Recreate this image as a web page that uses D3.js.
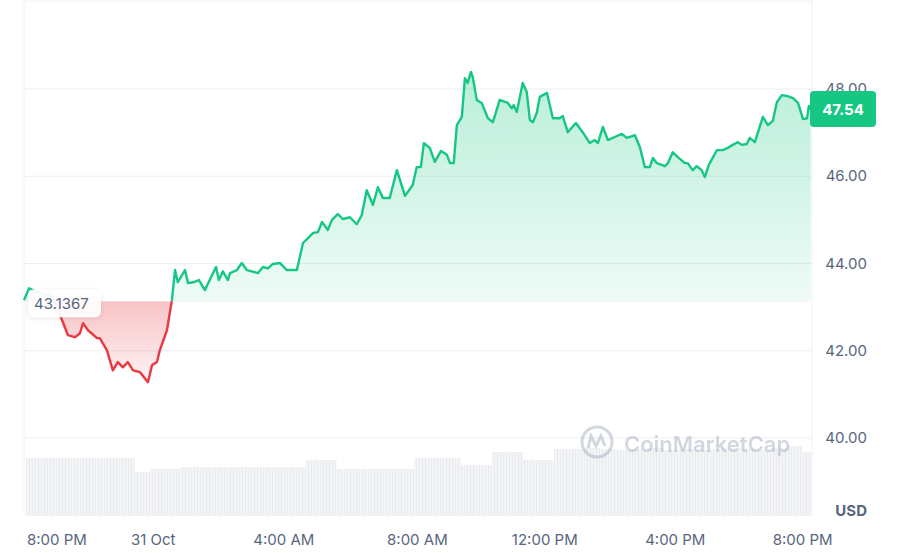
<!DOCTYPE html>
<html>
<head>
<meta charset="utf-8">
<script src="https://cdn.jsdelivr.net/npm/d3@7"></script>
<style>
  body { margin: 0; background: #fff; }
  text { font-family: Inter, "Noto Sans", sans-serif; }
</style>
</head>
<body>
<svg id="chart" width="921" height="553"></svg>
<script>
// price series: hours since 8:00 PM (30 Oct) and price in USD
var hours = [-1.06,-0.90,-0.55,-0.16,0.19,0.35,0.58,0.74,0.84,1.00,1.29,1.38,1.61,1.80,1.96,2.12,2.28,2.45,2.67,2.93,3.06,3.22,3.31,3.54,3.70,3.80,3.89,4.12,4.22,4.38,4.57,4.76,5.12,5.21,5.34,5.50,5.57,5.79,5.95,6.11,6.47,6.63,6.79,6.95,7.18,7.40,7.72,7.92,8.08,8.24,8.40,8.53,8.72,8.85,9.04,9.20,9.43,9.65,9.81,9.97,10.17,10.33,10.49,10.71,10.94,11.20,11.45,11.58,11.71,11.81,12.00,12.16,12.36,12.55,12.65,12.77,12.87,13.03,13.13,13.22,13.32,13.38,13.51,13.67,13.87,14.03,14.25,14.51,14.64,14.70,14.80,14.99,15.12,15.22,15.32,15.44,15.54,15.77,15.96,16.18,16.28,16.44,16.70,16.92,17.15,17.31,17.41,17.57,17.73,17.95,18.18,18.34,18.60,18.76,18.92,19.08,19.18,19.31,19.57,19.66,19.82,19.98,20.21,20.30,20.46,20.59,20.75,20.85,20.98,21.24,21.43,21.59,21.75,21.91,22.04,22.20,22.30,22.46,22.72,22.88,23.04,23.17,23.33,23.49,23.69,23.85,24.01,24.14,24.20,24.26];
var prices = [43.16,43.43,43.32,43.25,42.66,42.36,42.31,42.40,42.63,42.47,42.29,42.29,42.01,41.55,41.74,41.62,41.74,41.55,41.51,41.28,41.67,41.74,42.01,42.47,43.16,43.85,43.57,43.85,43.55,43.57,43.62,43.39,43.92,43.62,43.82,43.62,43.78,43.85,44.01,43.85,43.78,43.92,43.89,43.99,44.01,43.85,43.85,44.47,44.58,44.70,44.72,44.95,44.77,45.00,45.13,45.02,45.06,44.90,45.11,45.68,45.34,45.75,45.50,45.50,46.14,45.55,45.80,46.21,46.21,46.76,46.65,46.33,46.58,46.49,46.30,46.30,47.17,47.36,48.25,48.14,48.39,48.28,47.75,47.68,47.33,47.24,47.75,47.68,47.56,47.63,47.47,48.14,47.93,47.29,47.24,47.45,47.82,47.91,47.33,47.33,47.38,47.01,47.22,47.01,46.76,46.83,46.76,47.13,46.83,46.90,46.97,46.88,46.94,46.67,46.21,46.21,46.42,46.30,46.23,46.30,46.55,46.44,46.30,46.30,46.14,46.23,46.14,45.98,46.26,46.60,46.60,46.65,46.72,46.78,46.72,46.74,46.88,46.78,47.36,47.17,47.27,47.70,47.86,47.84,47.79,47.68,47.31,47.33,47.61,47.54];
// volume bars, one per half hour starting at -1h (relative units)
var volumes = [58,58,58,58,58,58,58,44,47,47,49,49,49,49,49,49,49,49,56,56,47,47,47,47,47,58,58,58,51,51,64,64,56,56,67,67,68,67,66,67,68,66,67,66,67,68,67,66,68,70,64];
var tickHours = [0,3.1,7.3,11.6,15.7,19.9,24];
var tickLabels = ["8:00 PM","31 Oct","4:00 AM","8:00 AM","12:00 PM","4:00 PM","8:00 PM"];
var priceTicks = [40,42,44,46,48];
var openPrice = 43.1367;
var lastPrice = 47.54;

var svg = d3.select("#chart");
var left = 24, right = 812;
var x = d3.scaleLinear().domain([-1.06, 24.3]).range([left, right]);
var y = d3.scaleLinear().domain([40, 48]).range([438, 89]);
var yv = d3.scaleLinear().domain([0, 100]).range([516, 416]);

var defs = svg.append("defs");
var gg = defs.append("linearGradient").attr("id","gGreen").attr("x1",0).attr("x2",0)
  .attr("gradientUnits","userSpaceOnUse").attr("y1", y(48.4)).attr("y2", y(openPrice));
gg.append("stop").attr("offset",0).attr("stop-color","#16c784").attr("stop-opacity",0.3);
gg.append("stop").attr("offset",1).attr("stop-color","#16c784").attr("stop-opacity",0.07);
var gr = defs.append("linearGradient").attr("id","gRed").attr("x1",0).attr("x2",0)
  .attr("gradientUnits","userSpaceOnUse").attr("y1", y(openPrice)).attr("y2", y(41.2));
gr.append("stop").attr("offset",0).attr("stop-color","#ea3943").attr("stop-opacity",0.3);
gr.append("stop").attr("offset",1).attr("stop-color","#ea3943").attr("stop-opacity",0.05);
defs.append("clipPath").attr("id","above").append("rect")
  .attr("x",0).attr("y",0).attr("width",921).attr("height",y(openPrice));
defs.append("clipPath").attr("id","below").append("rect")
  .attr("x",0).attr("y",y(openPrice)).attr("width",921).attr("height",553);
var sh = defs.append("filter").attr("id","shadow").attr("x","-20%").attr("y","-30%").attr("width","140%").attr("height","160%");
sh.append("feDropShadow").attr("dx",0).attr("dy",1).attr("stdDeviation",2).attr("flood-color","#000").attr("flood-opacity",0.12);
// thin striped fill for the volume bars
var pat = defs.append("pattern").attr("id","stripes").attr("patternUnits","userSpaceOnUse").attr("width",3).attr("height",10);
pat.append("rect").attr("width",3).attr("height",10).attr("fill","#f3f4f6");
pat.append("rect").attr("x",2).attr("width",1).attr("height",10).attr("fill","#e9ebef");

// frame
svg.append("line").attr("x1",left).attr("x2",left).attr("y1",0).attr("y2",516).attr("stroke","#eff2f5");
svg.append("line").attr("x1",right).attr("x2",right).attr("y1",0).attr("y2",516).attr("stroke","#eff2f5");
svg.append("line").attr("x1",left).attr("x2",right).attr("y1",1).attr("y2",1).attr("stroke","#eff2f5");

// grid
svg.selectAll(".grid").data(priceTicks).enter().append("line")
  .attr("x1",left).attr("x2",right).attr("y1",d=>y(d)).attr("y2",d=>y(d))
  .attr("stroke","#eceff3");

// volume
var step = 0.5;
svg.selectAll(".vol").data(volumes).enter().append("rect")
  .attr("x",(d,i)=>x(-1 + i*step))
  .attr("width",(d,i)=>Math.min(x(-1+(i+1)*step), right) - x(-1+i*step))
  .attr("y",d=>yv(d)).attr("height",d=>yv(0)-yv(d))
  .attr("fill","url(#stripes)");

// watermark
var wm = svg.append("g").attr("opacity",0.5);
wm.append("circle").attr("cx",597).attr("cy",442).attr("r",15).attr("fill","none").attr("stroke","#a6b0c3").attr("stroke-width",3);
wm.append("path").attr("d","M588,448 L591,436 L596,446 L601,436 L605,446").attr("fill","none").attr("stroke","#a6b0c3").attr("stroke-width",3);
wm.append("text").attr("x",624).attr("y",452).attr("font-size",22).attr("font-weight",600).attr("fill","#a6b0c3").text("CoinMarketCap");

var data = hours.map((h,i)=>({h:h, p:prices[i]}));
var area = d3.area().x(d=>x(d.h)).y0(y(openPrice)).y1(d=>y(d.p));
var line = d3.line().x(d=>x(d.h)).y(d=>y(d.p));

svg.append("path").datum(data).attr("d",area).attr("fill","url(#gGreen)").attr("clip-path","url(#above)");
svg.append("path").datum(data).attr("d",area).attr("fill","url(#gRed)").attr("clip-path","url(#below)");
svg.append("path").datum(data).attr("d",line).attr("fill","none").attr("stroke","#16c784").attr("stroke-width",2.4).attr("stroke-linejoin","round").attr("clip-path","url(#above)");
svg.append("path").datum(data).attr("d",line).attr("fill","none").attr("stroke","#ea3943").attr("stroke-width",2.4).attr("stroke-linejoin","round").attr("clip-path","url(#below)");

// y axis labels
svg.selectAll(".ylab").data(priceTicks).enter().append("text")
  .attr("x",867).attr("y",d=>y(d)+5).attr("text-anchor","end")
  .attr("font-size",15).attr("fill","#58667e").text(d=>d.toFixed(2));
svg.append("text").attr("x",867).attr("y",516).attr("text-anchor","end")
  .attr("font-size",15).attr("font-weight",700).attr("fill","#58667e").text("USD");

// x axis labels
svg.selectAll(".xlab").data(tickHours).enter().append("text")
  .attr("x",d=>x(d)).attr("y",545).attr("text-anchor","middle")
  .attr("font-size",15).attr("fill","#58667e").text((d,i)=>tickLabels[i]);

// last price tag
svg.append("rect").attr("x",810).attr("y",y(lastPrice)-18).attr("width",66).attr("height",36).attr("rx",4).attr("fill","#16c784");
svg.append("text").attr("x",843).attr("y",y(lastPrice)+6).attr("text-anchor","middle")
  .attr("font-size",15).attr("font-weight",700).attr("fill","#fff").text(lastPrice.toFixed(2));

// open price label
svg.append("rect").attr("x",28).attr("y",y(openPrice)-12).attr("width",73).attr("height",28).attr("rx",6)
  .attr("fill","#fff").attr("fill-opacity",0.92).attr("filter","url(#shadow)");
svg.append("text").attr("x",34).attr("y",y(openPrice)+8).attr("font-size",15).attr("fill","#58667e").text(openPrice);
</script>
</body>
</html>
